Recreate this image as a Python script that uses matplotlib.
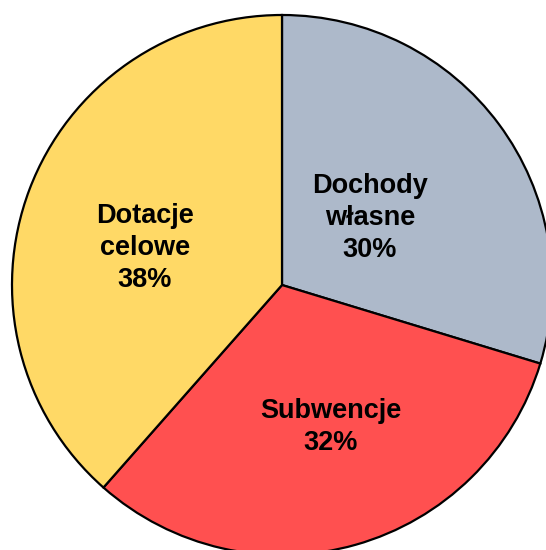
import matplotlib.pyplot as plt

kategorie = ['Dochody\nwłasne', 'Subwencje', 'Dotacje\ncelowe']
udzialy = [29.7, 31.8, 38.5]
procenty = ['30%', '32%', '38%']
kolory = ['#ADB9CA', '#FF5050', '#FFD966']

# polozenie etykiet wzgledem srodka kola (w pikselach)
etykiety_dx = [88, 49, -137]
etykiety_dy = [67, -142, 37]

plt.rcParams['font.family'] = ['Liberation Sans', 'DejaVu Sans']

fig = plt.figure(figsize=(5.46, 5.50), dpi=100)
ax = fig.add_axes([0, 0, 1, 1])

sx, sy = 282, 265
wedges, _ = ax.pie(udzialy, colors=kolory, startangle=90, counterclock=False,
                   radius=270, center=(sx, sy),
                   wedgeprops=dict(edgecolor='black', linewidth=1.6))

for nazwa, p, dx, dy in zip(kategorie, procenty, etykiety_dx, etykiety_dy):
    ax.text(sx + dx, sy + dy, nazwa + '\n' + p, ha='center', va='center',
            fontsize=19.5, fontweight='bold', linespacing=1.28)

ax.set_xlim(0, 546)
ax.set_ylim(0, 550)
ax.set_aspect('equal')
ax.axis('off')

fig.savefig('out.png', dpi=100)
